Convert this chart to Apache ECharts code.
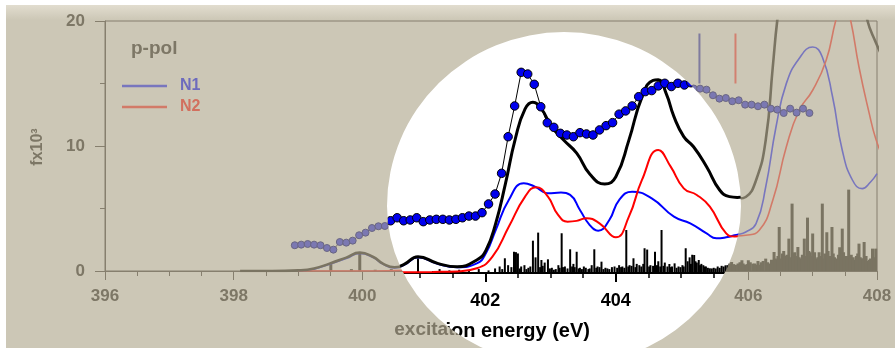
<!DOCTYPE html>
<html><head><meta charset="utf-8">
<script src="https://cdn.jsdelivr.net/npm/echarts/dist/echarts.min.js"></script>
<style>
html,body{margin:0;padding:0;background:#fff;width:895px;height:348px;overflow:hidden;}
#outer,#inner{position:absolute;left:0;top:0;width:895px;height:348px;}
#inner{clip-path:path('M387 206 A177 174 0 0 1 741 206 A177 160 0 0 1 387 206 Z');}
</style></head><body>
<div id="outer"></div><div id="inner"></div>
<script>
// ---------------- data ----------------
const xTicks = [396, 398, 400, 402, 404, 406, 408];
const yTicks = [0, 10, 20];

// experimental points
const dotX = [398.95,399.05,399.15,399.25,399.35,399.45,399.55,399.65,399.75,399.85,399.95,400.05,400.15,400.25,400.35,400.45,400.55,400.65,400.75,400.85,400.95,401.05,401.15,401.25,401.35,401.45,401.55,401.65,401.75,401.85,401.95,402.05,402.15,402.25,402.35,402.45,402.55,402.65,402.75,402.85,402.95,403.05,403.15,403.25,403.35,403.45,403.55,403.65,403.75,403.85,403.95,404.05,404.15,404.25,404.35,404.45,404.55,404.65,404.75,404.85,404.95,405.05,405.15,405.25,405.35,405.45,405.55,405.65,405.75,405.85,405.95,406.05,406.15,406.25,406.35,406.45,406.55,406.65,406.75,406.85,406.95];
const dotY = [2.06,2.11,2.16,2.11,2.06,1.84,1.71,2.32,2.27,2.43,2.86,3.07,3.44,3.58,3.60,3.85,4.01,4.24,4.01,4.07,4.24,3.94,4.07,4.12,4.12,4.07,4.12,4.24,4.37,4.37,4.63,5.30,6.06,7.65,10.46,12.82,15.40,15.27,14.48,12.76,11.53,11.18,10.72,10.59,10.46,10.77,10.67,10.59,10.98,11.31,11.54,12.19,12.44,12.82,13.53,13.92,14.00,14.36,14.56,14.31,14.56,14.43,14.60,14.59,14.51,14.06,13.79,13.84,13.58,13.66,13.31,13.31,13.18,13.31,12.99,12.91,12.64,12.99,12.67,12.99,12.64];

// total calculated spectrum
const totX = [398.1,398.6,399.0,399.25,399.49,399.75,399.96,400.17,400.32,400.5,400.75,400.97,401.27,401.57,401.87,402.01,402.16,402.31,402.46,402.61,402.73,402.86,403.01,403.2,403.4,403.6,403.83,404.0,404.2,404.4,404.57,404.65,404.77,404.89,405.04,405.19,405.39,405.59,405.74,405.86,405.96,406.12,406.27,406.38,406.45,406.6,406.8,407.0,407.2,407.4,407.6,407.75,407.85,407.98,408.1];
const totY = [0,0,0.05,0.2,0.59,1.07,1.47,1.12,0.59,0.3,0.65,1.25,0.74,0.48,1.0,1.74,3.81,6.88,10.3,12.59,13.1,12.59,11.28,10.2,9.2,7.6,6.83,7.39,10.2,13.5,14.79,14.84,13.79,12.0,10.47,9.69,8.16,6.37,5.86,5.8,5.92,7.26,10.46,16.32,20.06,26,31,33,33.5,32,28,23,20.06,18.3,17];

// N1 component
const n1X = [399.0,399.25,399.49,399.75,399.96,400.17,400.32,400.5,400.75,400.97,401.27,401.57,401.87,402.01,402.16,402.36,402.59,402.76,402.96,403.16,403.3,403.45,403.6,403.73,403.9,404.05,404.25,404.55,404.89,405.14,405.39,405.54,405.69,405.82,405.96,406.12,406.27,406.43,406.59,406.79,407.0,407.15,407.31,407.46,407.62,407.77,407.9,408.0];
const n1Y = [0.02,0.15,0.55,1.0,1.4,1.08,0.55,0.25,0.6,1.2,0.7,0.45,0.74,1.51,3.3,5.6,6.89,6.63,6.12,6.17,6.0,4.84,3.68,3.25,4.07,5.6,6.24,5.73,4.32,3.81,3.04,2.66,2.74,2.9,3.12,3.79,6.72,11.52,14.99,17.0,17.92,17.12,13.92,9.66,7.26,6.59,7.12,7.79];

// N2 component
const n2X = [399.0,400.0,400.67,401.2,401.57,401.87,402.11,402.36,402.61,402.78,402.96,403.11,403.26,403.4,403.55,403.75,404.0,404.2,404.4,404.65,404.84,405.04,405.24,405.44,405.69,405.82,405.96,406.17,406.38,406.59,406.79,407.0,407.21,407.36,407.48,407.59,407.72,407.88,407.98,408.1];
const n2Y = [0,0,0.05,0.08,0.12,0.36,1.25,3.55,5.86,6.58,5.86,4.5,3.94,4.0,4.2,3.81,2.74,4.32,7.14,9.44,8.16,6.5,5.99,5.09,3.04,2.8,2.86,3.26,5.66,9.92,12.86,14.46,16.86,20.06,22,20.06,16.32,12.59,10.59,9];

// stick (transition) spectrum
const stickX = [399.51,399.83,399.96,400.2,400.45,400.97,401.2,401.3,401.45,401.6,401.75,401.9,402.05,402.15,402.22,402.3,402.35,402.44,402.47,402.5,402.55,402.6,402.66,402.73,402.77,402.81,402.86,402.91,402.96,403.02,403.08,403.12,403.17,403.22,403.3,403.35,403.4,403.45,403.51,403.58,403.63,403.67,403.72,403.78,403.84,403.9,403.98,404.05,404.1,404.16,404.21,404.27,404.32,404.36,404.44,404.48,404.53,404.6,404.65,404.7,404.75,404.82,404.86,404.9,404.96,405.02,405.07,405.13,405.17,405.2,405.24,405.27,405.31,405.34,405.38,405.44,405.5,405.56,405.62,405.68,405.74,405.8,405.9,405.95,406.0,406.07,406.12,406.2,406.27,406.33,406.4,406.44,406.48,406.53,406.58,406.63,406.68,406.72,406.77,406.82,406.87,406.92,406.96,407.0,407.05,407.1,407.15,407.19,407.22,407.26,407.3,407.34,407.38,407.42,407.46,407.5,407.56,407.6,407.65,407.72,407.76,407.8,407.85,407.9,407.93,407.98,
  402.26,402.4,402.53,402.63,402.69,402.84,402.88,402.99,403.05,403.14,403.19,403.26,403.33,403.37,403.43,403.48,403.54,403.6,403.7,403.75,403.81,403.87,403.94,404.02,404.08,404.13,404.19,404.24,404.3,404.39,404.42,404.51,404.57,404.63,404.68,404.73,404.79,404.84,404.93,404.99,405.04,405.1,405.15,405.22,405.29,405.36,405.41,405.47,405.53,405.59,405.65,405.71,405.77,405.84,405.87,405.92,405.98,406.03,406.1,406.15,406.17,406.23,406.3,406.36,406.42,406.46,406.5,406.55,406.6,406.65,406.7,406.74,406.79,406.84,406.89,406.94,406.98,407.03,407.08,407.12,407.17,407.24,407.28,407.32,407.36,407.4,407.44,407.48,407.53,407.58,407.63,407.68,407.7,407.74,407.78,407.83,407.88,407.95];
const stickY = [0.6,0.15,1.4,0.1,0.15,1.13,0.15,0.3,0.2,0.25,0.15,0.3,0.2,0.35,0.5,1.13,0.6,1.63,1.6,1.5,0.5,0.6,0.4,2.48,1.2,3.1,1.0,0.8,1.05,0.4,0.3,0.6,3.05,0.5,1.82,0.7,1.63,0.4,0.5,0.3,0.6,1.82,0.5,0.87,0.4,0.3,0.5,0.6,0.5,3.3,0.6,1.13,0.7,0.6,1.9,1.8,0.6,1.63,0.9,3.3,0.8,0.69,0.5,0.74,0.5,0.6,1.9,1.2,1.4,1.38,0.8,1.0,0.7,0.6,0.5,0.36,0.4,0.5,0.55,0.59,0.72,0.5,0.86,0.5,0.86,0.59,0.5,0.7,0.99,0.6,1.52,0.9,3.52,1.4,1.2,2.59,5.39,1.5,1.92,1.0,2.59,4.27,1.5,3.0,1.0,1.5,5.39,1.4,3.1,1.2,3.52,1.1,0.9,1.9,3.39,1.2,6.51,1.3,0.9,2.19,1.0,2.32,0.8,1.0,1.79,1.79,
  0.3,0.45,0.35,0.3,0.5,0.45,0.55,0.35,0.25,0.4,0.45,0.35,0.5,0.45,0.35,0.3,0.4,0.35,0.4,0.45,0.3,0.35,0.45,0.4,0.45,0.4,0.5,0.55,0.45,0.5,0.7,0.5,0.55,0.6,0.5,0.55,0.5,0.45,0.4,0.45,0.5,0.9,0.7,0.9,0.6,0.5,0.4,0.35,0.35,0.4,0.5,0.6,0.55,0.6,0.7,0.6,0.55,0.7,0.6,0.8,0.5,0.8,0.7,0.9,1.0,1.2,1.0,1.6,1.3,1.1,1.4,1.2,1.1,1.3,1.2,1.6,1.2,1.5,1.1,1.2,1.0,1.6,1.2,1.4,1.0,1.3,1.1,1.5,1.2,1.0,1.1,1.2,1.4,1.1,1.0,1.2,0.9,1.1];

// ionisation threshold markers
const ipN1X = [405.24, 405.24];
const ipN1Y = [15, 19];
const ipN2X = [405.8, 405.8];
const ipN2Y = [15, 19];

// ---------------- helpers ----------------
const pairs = (xs, ys) => xs.map((x, i) => [x, ys[i]]);
const FONT = '"Liberation Sans", Arial, Helvetica, sans-serif';
const GRAY = '#7d7766';
const AX = '#867f6e';
const F_BLACK = '#7a7462';
const F_BLUE = '#7876be';
const F_RED = '#d27a68';
const SMOOTH = 0.5;

function series(p) {
  return [
    {type:'bar', name:'sticks', data:pairs(stickX, stickY), barWidth:p.barW, itemStyle:{color:p.black}, silent:true, z:2},
    {type:'line', name:'N1', data:pairs(n1X, n1Y), color:p.blue, symbol:'none', smooth:SMOOTH, lineStyle:{color:p.blue, width:p.thin}, z:3},
    {type:'line', name:'N2', data:pairs(n2X, n2Y), color:p.red, symbol:'none', smooth:SMOOTH, lineStyle:{color:p.red, width:p.thin}, z:3},
    {type:'line', name:'total', data:pairs(totX, totY), color:p.black, symbol:'none', smooth:SMOOTH, lineStyle:{color:p.black, width:p.thick}, z:4},
    {type:'line', name:'exp', data:pairs(dotX, dotY), symbol:'circle', symbolSize:p.dot, showAllSymbol:true,
      itemStyle:{color:p.dotFill, borderColor:p.dotBorder, borderWidth:1}, lineStyle:{color:p.dotLine, width:1}, z:5},
    {type:'line', name:'ipN1', data:pairs(ipN1X, ipN1Y), symbol:'none', lineStyle:{color:p.ip1, width:2}, z:4},
    {type:'line', name:'ipN2', data:pairs(ipN2X, ipN2Y), symbol:'none', lineStyle:{color:p.ip2, width:2}, z:4}
  ];
}
function txt(x, y, text, size, color, align, extra) {
  return Object.assign({type:'text', x:x, y:y, silent:true, z:10,
    style:{text:text, fontSize:size, fontWeight:'bold', fontFamily:FONT, fill:color,
      align:align, verticalAlign:'middle', textAlign:align, textVerticalAlign:'middle'}}, extra || {});
}

// ---------------- outer (faded) chart ----------------
const outer = echarts.init(document.getElementById('outer'));
outer.setOption({
  animation:false,
  backgroundColor:'#ffffff',
  grid:{left:105, right:18, top:21, bottom:77, show:true, borderColor:AX, borderWidth:1, backgroundColor:'transparent'},
  xAxis:{type:'value', min:xTicks[0], max:xTicks[xTicks.length-1], interval:2,
    axisLine:{show:true, lineStyle:{color:AX, width:1}},
    axisTick:{show:true, length:9, lineStyle:{color:AX, width:1}},
    minorTick:{show:true, splitNumber:4, length:5, lineStyle:{color:AX, width:1}},
    axisLabel:{margin:17, color:GRAY, fontSize:17, fontWeight:'bold', fontFamily:FONT},
    splitLine:{show:false}},
  yAxis:{type:'value', min:yTicks[0], max:yTicks[yTicks.length-1], interval:10,
    axisLine:{show:true, lineStyle:{color:AX, width:1}},
    axisTick:{show:true, length:10, lineStyle:{color:AX, width:1}},
    minorTick:{show:true, splitNumber:2, length:5, lineStyle:{color:AX, width:1}},
    axisLabel:{margin:20, color:GRAY, fontSize:17, fontWeight:'bold', fontFamily:FONT},
    splitLine:{show:false}},
  legend:{orient:'vertical', left:122, top:78, padding:0, itemGap:5, itemWidth:45, itemHeight:2.5,
    textStyle:{fontSize:16, fontWeight:'bold', fontFamily:FONT, padding:[0,0,0,8]},
    data:[{name:'N1', icon:'rect', textStyle:{color:'#6d6bbd'}}, {name:'N2', icon:'rect', textStyle:{color:'#d2705e'}}]},
  graphic:[
    {type:'rect', shape:{x:6, y:5, width:889, height:343}, style:{fill:'#ccc7b6'}, z:-10, silent:true},
    {type:'rect', shape:{x:6, y:5, width:889, height:15}, style:{fill:{type:'linear', x:0, y:0, x2:0, y2:1,
      colorStops:[{offset:0, color:'#e2ddcf'}, {offset:1, color:'#ccc7b6'}]}}, z:-9, silent:true},
    txt(131, 49, 'p-pol', 19, GRAY, 'left'),
    txt(38, 147, 'fx10³', 16, GRAY, 'center', {rotation: Math.PI / 2}),
    txt(493, 330, 'excitation energy (eV)', 19, GRAY, 'center')
  ],
  series: series({barW:3, black:F_BLACK, blue:F_BLUE, red:F_RED, thin:1.6, thick:2.6, dot:7,
    dotFill:'#7b78b2', dotBorder:'#6a6682', dotLine:'#77706a', ip1:'#7f7b9e', ip2:'#d28070'})
});

// ---------------- inner (magnified, full colour) chart ----------------
const inner = echarts.init(document.getElementById('inner'));
inner.setOption({
  animation:false,
  backgroundColor:'#ffffff',
  grid:{left:354.7, right:3.1, top:12.4, bottom:75},
  xAxis:{type:'value', min:400, max:408, interval:2,
    axisLine:{show:true, lineStyle:{color:'#000', width:2}},
    axisTick:{show:true, length:9, lineStyle:{color:'#000', width:2}},
    minorTick:{show:true, splitNumber:4, length:5, lineStyle:{color:'#000', width:1.5}},
    axisLabel:{margin:19, color:'#000', fontSize:18, fontWeight:'bold', fontFamily:FONT},
    splitLine:{show:false}},
  yAxis:{type:'value', min:0, max:20, show:false, splitLine:{show:false}},
  graphic:[txt(486, 331.5, 'excitation energy (eV)', 20, '#000', 'center')],
  series: series({barW:2, black:'#000', blue:'#0000ff', red:'#ff0000', thin:2, thick:3, dot:8.5,
    dotFill:'#0000ee', dotBorder:'#000', dotLine:'#000', ip1:'#2a2a8a', ip2:'#ff3a20'})
});
</script>
</body></html>
